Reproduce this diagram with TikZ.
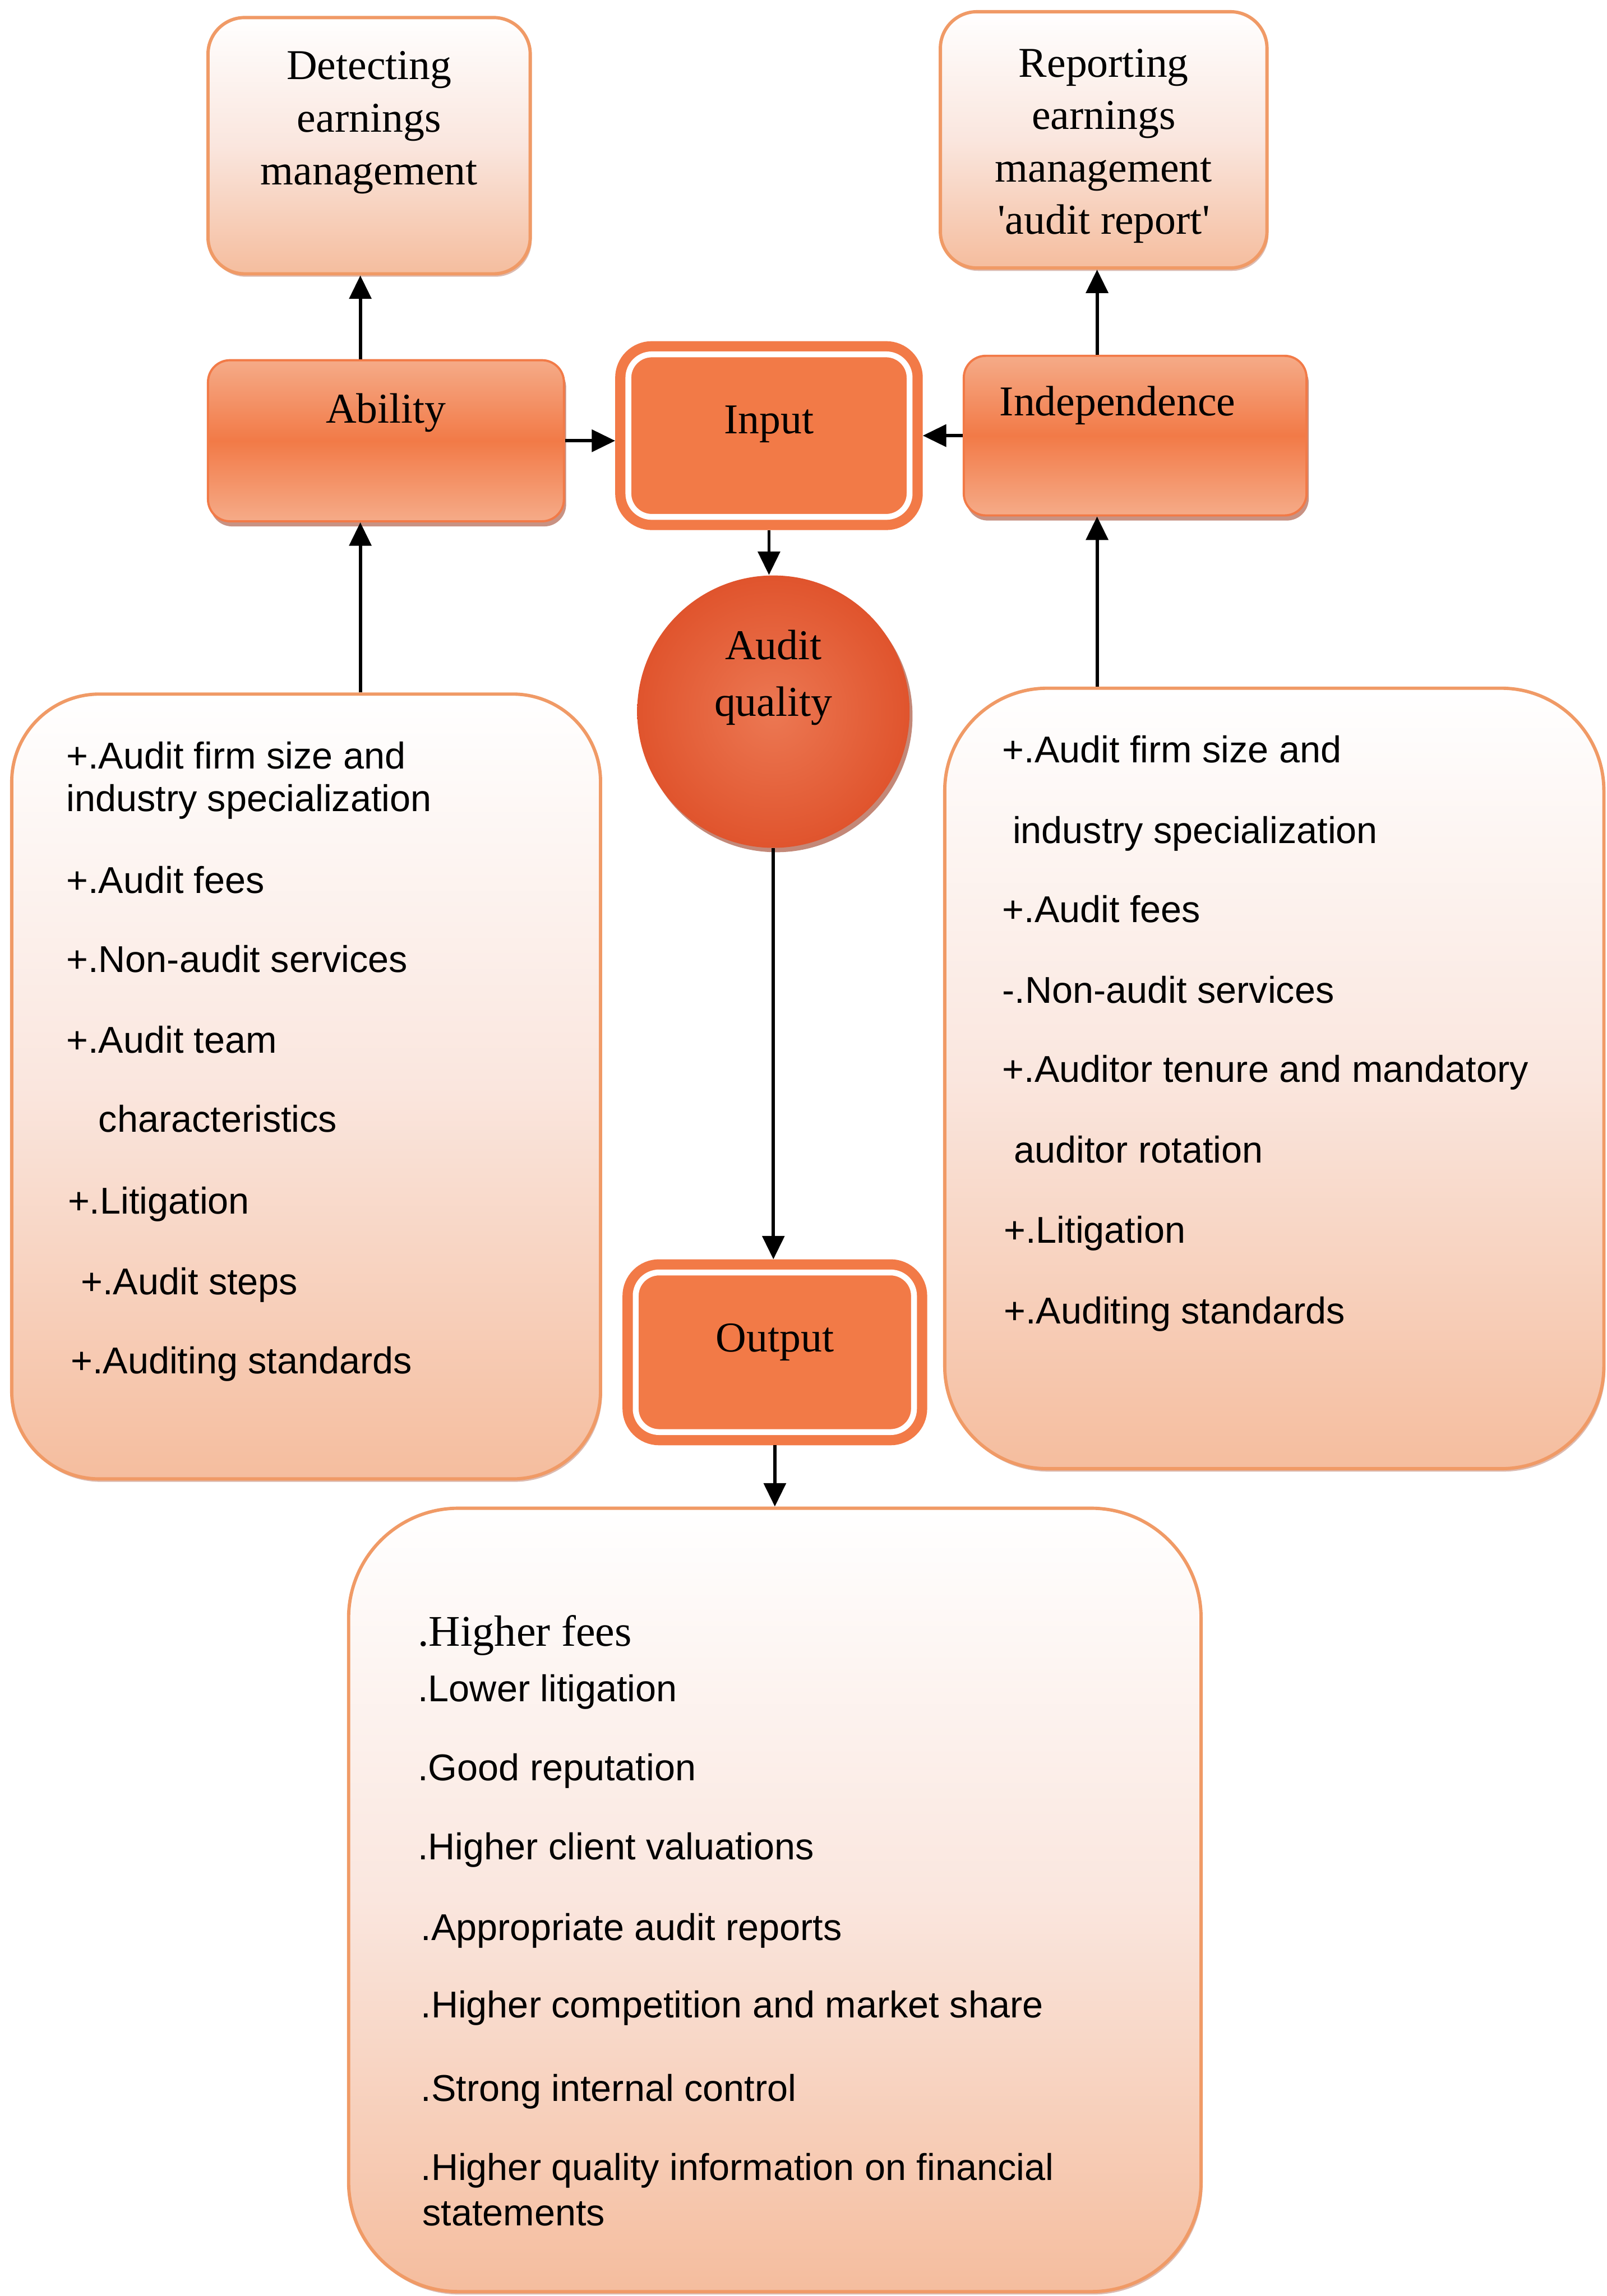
\documentclass[tikz,border=0pt]{standalone}
\usepackage{fontspec}
\setmainfont{Liberation Serif}
\setsansfont{Liberation Sans}
\usetikzlibrary{arrows.meta,positioning,calc,shadows}
\definecolor{aqline}{HTML}{F09A66}
\definecolor{aqpeach}{HTML}{F5BD9E}
\definecolor{aqblush}{HTML}{FAE6DE}
\definecolor{aqorange}{HTML}{F27A47}
\definecolor{aqlight}{HTML}{F5AB88}
\definecolor{aqred}{HTML}{E0542D}
\definecolor{aqglow}{HTML}{EC7853}
\definecolor{aqshade}{HTML}{9C3A1E}

\begin{document}
\begin{tikzpicture}[
  x=0.2mm, y=-0.2mm,
  outcome/.style={
    draw=aqline, line width=0.45mm, rounded corners=5mm,
    top color=white, bottom color=aqpeach, middle color=aqblush,
    font=\fontsize{16.5}{20.4}\selectfont, align=center,
    drop shadow={shadow xshift=0.2mm, shadow yshift=-0.4mm, fill=aqshade, opacity=0.35}},
  factor/.style={
    draw=aqorange, line width=0.3mm, rounded corners=3mm,
    top color=aqlight, bottom color=aqlight, middle color=aqorange,
    font=\fontsize{16.5}{20.4}\selectfont, text height=3.8mm,
    drop shadow={shadow xshift=0.3mm, shadow yshift=-0.7mm, fill=aqshade, opacity=0.55}},
  stage/.style={
    draw=aqorange, fill=aqorange, double=white, double distance=0.8mm,
    line width=1.4mm, rounded corners=3.2mm, outer sep=1.8mm,
    font=\fontsize{16.5}{20.4}\selectfont, text height=3.8mm},
  hub/.style={
    circle, minimum size=37.2mm, inner sep=0pt,
    inner color=aqglow, outer color=aqred, align=center,
    font=\fontsize{16.5}{22}\selectfont, text height=3.8mm,
    drop shadow={shadow xshift=0.4mm, shadow yshift=-0.6mm, fill=aqshade, opacity=0.6}},
  listbox/.style={
    draw=aqline, line width=0.45mm,
    top color=white, bottom color=aqpeach, middle color=aqblush,
    drop shadow={shadow xshift=0.2mm, shadow yshift=-0.4mm, fill=aqshade, opacity=0.35}},
  item/.style={anchor=base west, inner sep=0pt,
    font=\sffamily\fontsize{14.5}{17.4}\selectfont},
  arrow/.style={-{Triangle[length=3.2mm, width=3mm]}, line width=0.45mm, black},
]
  \fill[white, use as bounding box] (0,0) rectangle (1097,1568);

  %% ---- Top results ----
  \node[outcome, minimum width=44mm, minimum height=35mm, text height=12.1mm, text depth=1.5mm]
    (detect) at (252,99.5) {Detecting\\earnings\\management};
  \node[outcome, minimum width=44.6mm, minimum height=35mm, text height=27.3mm, text depth=1.5mm]
    (report) at (753.5,95.5) {Reporting\\earnings\\management\\\textquotesingle audit report\textquotesingle};

  %% ---- Input row ----
  \node[factor, minimum width=48.6mm, minimum height=22mm, text depth=8.6mm]
    (ability) at (263.5,301) {Ability};
  \node[stage, minimum width=38.4mm, minimum height=22.2mm, text depth=4.4mm]
    (input) at (525,297.5) {Input};
  \node[factor, minimum width=46.8mm, minimum height=21.8mm, text depth=9.2mm]
    (indep) at (775,297.5) {Independence\kern4.8mm};

  %% ---- Centre ----
  \node[hub, text depth=2.6mm] (quality) at (528,486) {Audit\\quality};
  \node[stage, minimum width=38mm, minimum height=21.8mm, text depth=4mm]
    (output) at (529,923.5) {Output};

  %% ---- Factor lists ----
  \node[listbox, rounded corners=12mm, minimum width=80.4mm, minimum height=107.2mm]
    (ablist) at (209,742) {};
  \node[listbox, rounded corners=14mm, minimum width=90mm, minimum height=106.6mm]
    (indlist) at (870,736.5) {};
  \node[listbox, rounded corners=15mm, minimum width=116.4mm, minimum height=107mm]
    (effects) at (529,1297.5) {};

  \foreach \x/\y/\txt [count=\i] in {
      45/525/{+.Audit firm size and}, 45/554/{industry specialization},
      45/610/{+.Audit fees}, 45/664/{+.Non-audit services},
      45/719/{+.Audit team}, 67/773/{characteristics},
      46/829/{+.Litigation}, 55/884/{+.Audit steps},
      48/938/{+.Auditing standards}}
    \node[item] (ab\i) at (\x,\y) {\txt};

  \foreach \x/\y/\txt [count=\i] in {
      684/521/{+.Audit firm size and}, 691/576/{industry specialization},
      684/630/{+.Audit fees}, 684/685/{-.Non-audit services},
      684/739/{+.Auditor tenure and mandatory}, 692/794/{auditor rotation},
      685/849/{+.Litigation}, 685/904/{+.Auditing standards}}
    \node[item] (in\i) at (\x,\y) {\txt};

  \node[anchor=base west, inner sep=0pt, font=\fontsize{17}{20}\selectfont]
    (fx0) at (285,1124) {.Higher fees};
  \foreach \x/\y/\txt [count=\i] in {
      285/1162/{.Lower litigation}, 285/1216/{.Good reputation},
      285/1270/{.Higher client valuations}, 287/1325/{.Appropriate audit reports},
      287/1378/{.Higher competition and market share}, 287/1435/{.Strong internal control},
      287/1489/{.Higher quality information on financial}, 288/1520/{statements}}
    \node[item] (fx\i) at (\x,\y) {\txt};

  %% ---- Connectors ----
  \coordinate (lx) at (246,0);
  \coordinate (rx) at (749,0);
  \draw[arrow] (lx |- ability.north) -- (lx |- detect.south);
  \draw[arrow] (lx |- ablist.north) -- (lx |- ability.south);
  \draw[arrow] (rx |- indep.north) -- (rx |- report.south);
  \draw[arrow] (rx |- indlist.north) -- (rx |- indep.south);
  \draw[arrow] (ability.east) -- (ability.east -| input.west);
  \draw[arrow] (indep.west) -- (indep.west -| input.east);
  \draw[arrow] (input.south) -- (input.south |- quality.north);
  \draw[arrow] (quality.south) -- (quality.south |- output.north);
  \draw[arrow] (output.south) -- (output.south |- effects.north);

\end{tikzpicture}
\end{document}
